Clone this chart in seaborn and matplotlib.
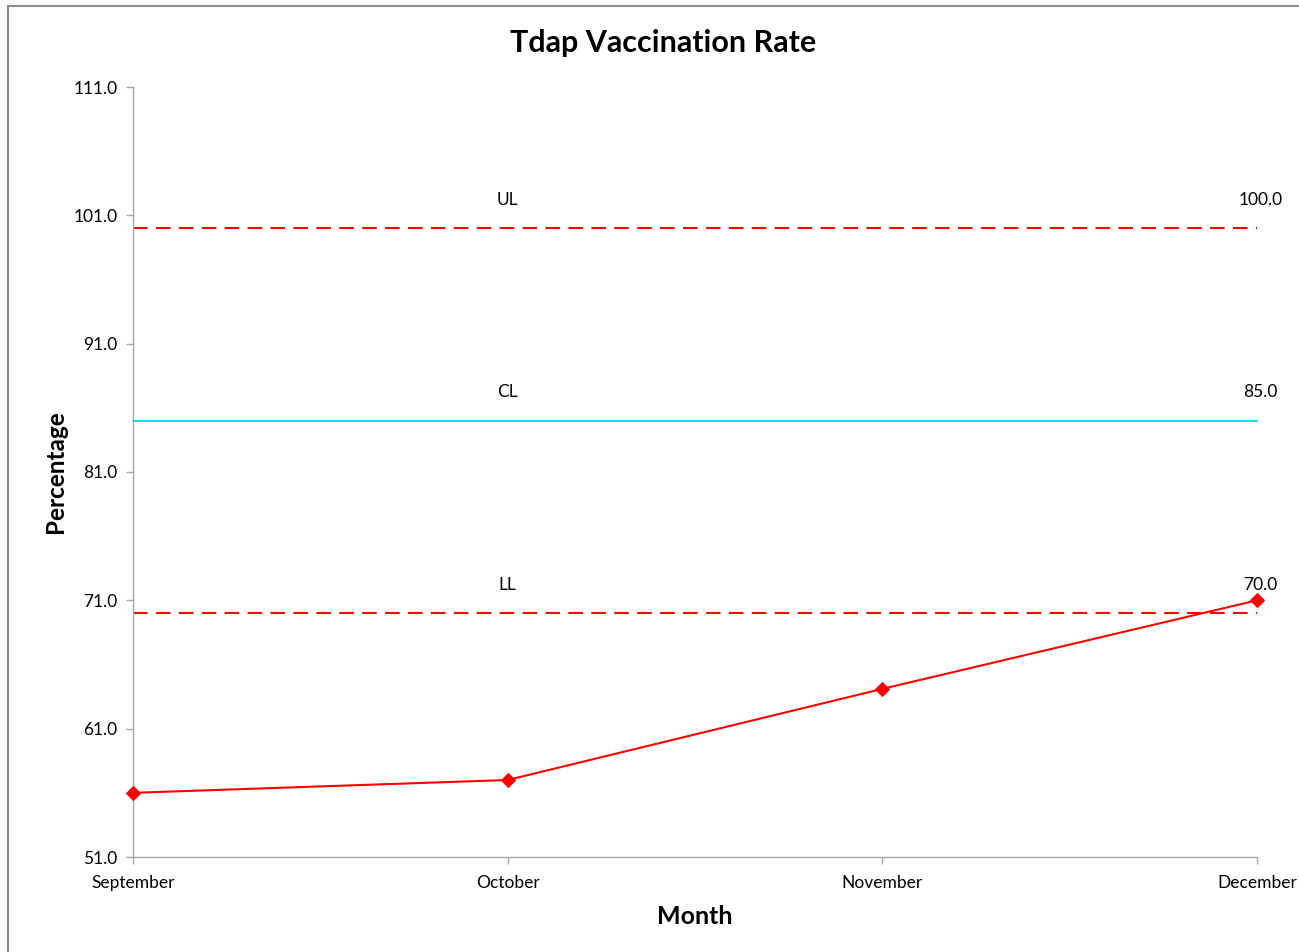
import matplotlib
matplotlib.use("Agg")
import matplotlib.pyplot as plt
import seaborn as sns
import pandas as pd
from matplotlib.patches import Rectangle

months = ["September", "October", "November", "December"]
rates = [56.0, 57.0, 64.1, 71.0]

limit_names = ["UL", "CL", "LL"]
limit_values = [100.0, 85.0, 70.0]
limit_colors = ["red", "#00E5EE", "red"]
limit_dashed = [True, False, True]

y_ticks = [51.0, 61.0, 71.0, 81.0, 91.0, 101.0, 111.0]

sns.set_style("white")
plt.rcParams['font.family'] = ['Lato', 'DejaVu Sans']
plt.rcParams['text.color'] = 'black'
plt.rcParams['axes.labelcolor'] = 'black'
plt.rcParams['xtick.labelcolor'] = 'black'
plt.rcParams['ytick.labelcolor'] = 'black'

df = pd.DataFrame({"Month": months, "Percentage": rates})

fig = plt.figure(figsize=(12.99, 9.52), dpi=100)
ax = fig.add_axes([133 / 1299, 1 - 857 / 952, (1257 - 133) / 1299, (857 - 87) / 952])

# outer chart border
fig.patches.append(Rectangle((8 / 1299, -0.05), 1.2, 1 - 6 / 952 + 0.05, transform=fig.transFigure,
                             fill=False, edgecolor="#8c8c8c", linewidth=1.5, zorder=0))

n = len(months)
for name, val, col, dashed in zip(limit_names, limit_values, limit_colors, limit_dashed):
    ln, = ax.plot([0, n - 1], [val, val], color=col, linewidth=1.5, zorder=2)
    if dashed:
        ln.set_dashes((7, 4))
    ax.text(1, val + 1.6, name, ha="center", va="bottom", fontsize=12.5)
    ax.text(n - 1 + 0.01, val + 1.6, f"{val:.1f}", ha="center", va="bottom", fontsize=12.5)

sns.lineplot(data=df, x="Month", y="Percentage", ax=ax, color="red", marker="D",
             markersize=7, markeredgecolor="red", linewidth=1.5, sort=False, zorder=3)
for line in ax.lines:
    line.set_clip_on(False)

ax.set_xlim(0, n - 1)
ax.set_ylim(51, 111)
ax.set_yticks(y_ticks)
ax.set_yticklabels([f"{t:.1f}" for t in y_ticks])
ax.set_xticks(range(n))
ax.set_xticklabels(months)

for s in ["top", "right"]:
    ax.spines[s].set_visible(False)
for s in ["left", "bottom"]:
    ax.spines[s].set_color("#a6a6a6")
    ax.spines[s].set_linewidth(1)

ax.tick_params(axis="both", which="both", direction="out", length=5, width=1,
               color="#a6a6a6", labelsize=12.5, left=True, bottom=True)
ax.tick_params(axis="x", pad=8)
ax.tick_params(axis="y", pad=6)

fig.text(663 / 1299, 1 - 43 / 952, "Tdap Vaccination Rate", fontsize=22, fontweight="bold",
         ha="center", va="center")
ax.set_xlabel("Month", fontsize=18, fontweight="bold", labelpad=10)
ax.set_ylabel("Percentage", fontsize=17.5, fontweight="bold", labelpad=5)

fig.savefig("out.png", dpi=100)
